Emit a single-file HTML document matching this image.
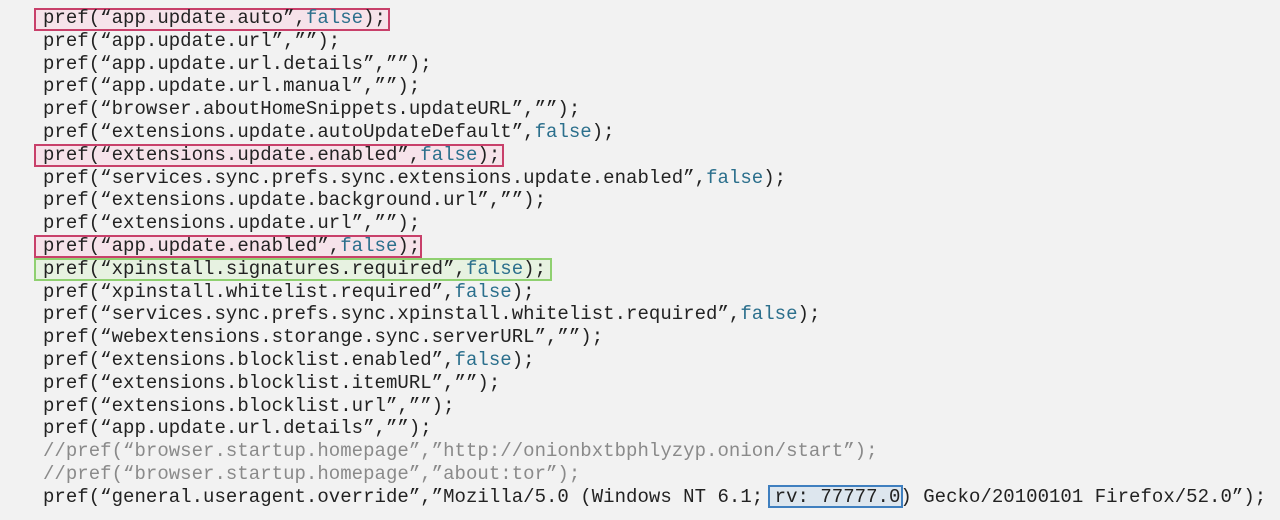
<!DOCTYPE html>
<html><head><meta charset="utf-8"><style>
body{margin:0;width:1280px;height:520px;background:#f2f2f2;overflow:hidden;position:relative;font-family:"Liberation Mono",monospace;}
.l{position:absolute;left:43px;height:23px;line-height:23px;font-size:19px;color:#222;white-space:pre;letter-spacing:0.03px;}
.f{color:#2b6f8c}
.c{color:#8a8a8a}
.b{position:absolute;box-sizing:border-box;}
.r{border:2px solid #c8406a;background:#f6e3ea}
.g{border:2px solid #8fd070;background:#e7f2e1}
.u{border:2px solid #3f7fbf;background:#dde6ee}
</style></head><body>
<div class="b r" style="left:34px;top:8px;width:356px;height:23px"></div>
<div class="b r" style="left:34px;top:144px;width:470px;height:23px"></div>
<div class="b r" style="left:34px;top:235px;width:388px;height:23px"></div>
<div class="b g" style="left:34px;top:258px;width:518px;height:23px"></div>
<div class="b u" style="left:768px;top:485px;width:135px;height:23px"></div>
<div class="l" style="top:7px">pref(“app.update.auto”,<span class="f">false</span>);</div>
<div class="l" style="top:29.8px">pref(“app.update.url”,””);</div>
<div class="l" style="top:52.6px">pref(“app.update.url.details”,””);</div>
<div class="l" style="top:75.4px">pref(“app.update.url.manual”,””);</div>
<div class="l" style="top:98.2px">pref(“browser.aboutHomeSnippets.updateURL”,””);</div>
<div class="l" style="top:121px">pref(“extensions.update.autoUpdateDefault”,<span class="f">false</span>);</div>
<div class="l" style="top:143.8px">pref(“extensions.update.enabled”,<span class="f">false</span>);</div>
<div class="l" style="top:166.6px">pref(“services.sync.prefs.sync.extensions.update.enabled”,<span class="f">false</span>);</div>
<div class="l" style="top:189.4px">pref(“extensions.update.background.url”,””);</div>
<div class="l" style="top:212.2px">pref(“extensions.update.url”,””);</div>
<div class="l" style="top:235px">pref(“app.update.enabled”,<span class="f">false</span>);</div>
<div class="l" style="top:257.8px">pref(“xpinstall.signatures.required”,<span class="f">false</span>);</div>
<div class="l" style="top:280.6px">pref(“xpinstall.whitelist.required”,<span class="f">false</span>);</div>
<div class="l" style="top:303.4px">pref(“services.sync.prefs.sync.xpinstall.whitelist.required”,<span class="f">false</span>);</div>
<div class="l" style="top:326.2px">pref(“webextensions.storange.sync.serverURL”,””);</div>
<div class="l" style="top:349px">pref(“extensions.blocklist.enabled”,<span class="f">false</span>);</div>
<div class="l" style="top:371.8px">pref(“extensions.blocklist.itemURL”,””);</div>
<div class="l" style="top:394.6px">pref(“extensions.blocklist.url”,””);</div>
<div class="l" style="top:417.4px">pref(“app.update.url.details”,””);</div>
<div class="l c" style="top:440.2px">//pref(“browser.startup.homepage”,”http://onionbxtbphlyzyp.onion/start”);</div>
<div class="l c" style="top:463px">//pref(“browser.startup.homepage”,”about:tor”);</div>
<div class="l" style="top:485.8px">pref(“general.useragent.override”,”Mozilla/5.0 (Windows NT 6.1; rv: 77777.0) Gecko/20100101 Firefox/52.0”);</div>
</body></html>
